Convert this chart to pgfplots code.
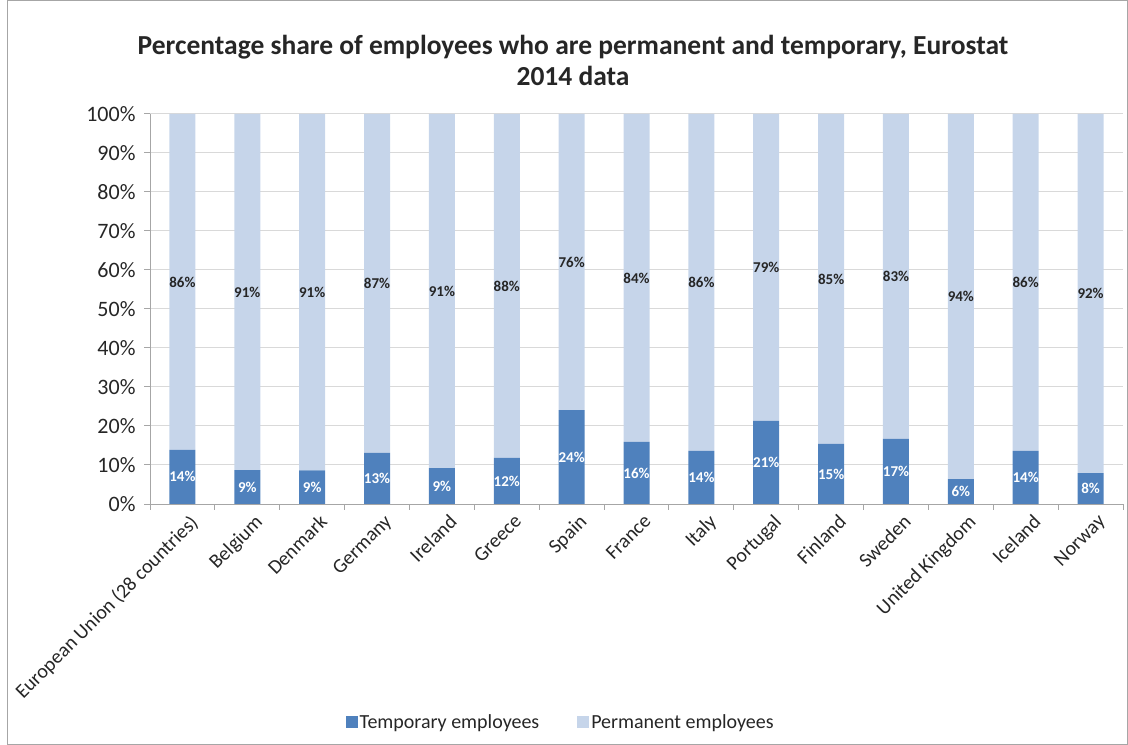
\documentclass[border=0pt]{standalone}
\usepackage{pgfplots}
\pgfplotsset{compat=1.18}
\usepackage{fontspec}
\setmainfont{Carlito}
\definecolor{tempc}{HTML}{4F81BD}
\definecolor{permc}{HTML}{C6D5EA}
\definecolor{gridc}{HTML}{D9D9D9}
\definecolor{axc}{HTML}{A6A6A6}
\definecolor{txt}{HTML}{262626}
\begin{document}
\begin{tikzpicture}
\useasboundingbox (0bp,0bp) rectangle (1128bp,745bp);
\draw[color=axc, line width=0.8bp] (7bp,0.5bp) rectangle (1127.5bp,744.5bp);
\node[font=\bfseries\fontsize{27.5bp}{31bp}\selectfont, align=center, text=txt] at (573bp,685bp)
  {Percentage share of employees who are permanent and temporary, Eurostat\\2014 data};
\begin{axis}[
  at={(150bp,241bp)}, anchor=south west,
  scale only axis, width=973bp, height=390bp,
  xmin=-0.5, xmax=14.5, ymin=0, ymax=100,
  ybar stacked, bar width=26bp,
  axis lines*=left, axis line style={-, color=axc, line width=1bp},
  tick align=outside, tick style={color=axc, line width=1bp}, major tick length=6bp,
  xtick={-0.5,0.5,...,14.5}, xticklabels={},
  extra x ticks={0,1,...,14},
  extra x tick labels={European Union (28 countries),Belgium,Denmark,Germany,Ireland,Greece,Spain,France,Italy,Portugal,Finland,Sweden,United Kingdom,Iceland,Norway},
  extra x tick style={major tick length=0pt, tick style={draw=none},
     xticklabel style={rotate=45, anchor=north east, inner sep=2bp, xshift=0bp, yshift=-9bp}},
  ytick={0,10,...,100},
  yticklabel={\pgfmathprintnumber{\tick}\%},
  yticklabel style={font=\fontsize{22bp}{26bp}\selectfont, xshift=-5bp},
  ymajorgrids, grid style={color=gridc, line width=1bp},
  xticklabel style={font=\fontsize{20bp}{24bp}\selectfont},
  ticklabel style={text=txt},
  /pgf/number format/assume math mode=true,
  legend style={at={(0.422,-0.559)}, anchor=center, draw=none, fill=none,
     legend columns=2, font=\fontsize{20bp}{24bp}\selectfont, text=txt,
     /tikz/every even column/.append style={column sep=36bp}},
  legend image code/.code={\fill[#1] (0bp,-6bp) rectangle (12bp,6bp);},
]
\addplot[fill=tempc, draw=none] coordinates {
 (0,13.9) (1,8.7) (2,8.6) (3,13.1) (4,9.2) (5,11.8) (6,24.1) (7,15.9)
 (8,13.6) (9,21.3) (10,15.4) (11,16.7) (12,6.4) (13,13.6) (14,7.9)};
\addlegendentry{Temporary employees}
\addplot[fill=permc, draw=none] coordinates {
 (0,86.1) (1,91.3) (2,91.4) (3,86.9) (4,90.8) (5,88.2) (6,75.9) (7,84.1)
 (8,86.4) (9,78.7) (10,84.6) (11,83.3) (12,93.6) (13,86.4) (14,92.1)};
\addlegendentry{Permanent employees}
\end{axis}
\begin{axis}[
  at={(150bp,241bp)}, anchor=south west,
  scale only axis, width=973bp, height=390bp,
  xmin=-0.5, xmax=14.5, ymin=0, ymax=100, hide axis,
]
\addplot[draw=none, mark=none, nodes near coords, point meta=explicit symbolic,
  nodes near coords align=center,
  every node near coord/.append style={anchor=center, text=white, font=\bfseries\fontsize{15bp}{18bp}\selectfont}]
 coordinates {
 (0,6.95) [14\%] (1,4.35) [9\%] (2,4.3) [9\%] (3,6.55) [13\%] (4,4.6) [9\%]
 (5,5.9) [12\%] (6,12.05) [24\%] (7,7.95) [16\%] (8,6.8) [14\%] (9,10.65) [21\%]
 (10,7.7) [15\%] (11,8.35) [17\%] (12,3.2) [6\%] (13,6.8) [14\%] (14,3.95) [8\%]};
\addplot[draw=none, mark=none, nodes near coords, point meta=explicit symbolic,
  nodes near coords align=center,
  every node near coord/.append style={anchor=center, text=txt, font=\bfseries\fontsize{15bp}{18bp}\selectfont}]
 coordinates {
 (0,56.95) [86\%] (1,54.35) [91\%] (2,54.3) [91\%] (3,56.55) [87\%] (4,54.6) [91\%]
 (5,55.9) [88\%] (6,62.05) [76\%] (7,57.95) [84\%] (8,56.8) [86\%] (9,60.65) [79\%]
 (10,57.7) [85\%] (11,58.35) [83\%] (12,53.2) [94\%] (13,56.8) [86\%] (14,53.95) [92\%]};
\end{axis}
\end{tikzpicture}
\end{document}
